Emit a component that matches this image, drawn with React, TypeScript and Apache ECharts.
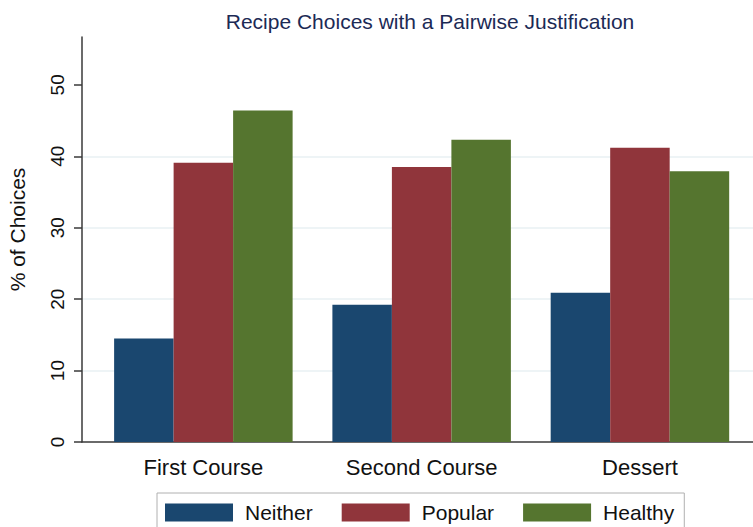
import React, { useEffect, useRef } from "react";
import * as echarts from "echarts";

const categories = ["First Course", "Second Course", "Dessert"];
const seriesNames = ["Neither", "Popular", "Healthy"];
const neither = [14.5, 19.2, 20.9];
const popular = [39.1, 38.5, 41.2];
const healthy = [46.4, 42.3, 37.9];
const yTicks = [0, 10, 20, 30, 40, 50];
const colors = ["#1a476f", "#90353b", "#55752f"];

export default function App() {
  const ref = useRef<HTMLDivElement>(null);
  useEffect(() => {
    const chart = echarts.init(ref.current!, null, { renderer: "svg" });
    const values = [neither, popular, healthy];
    chart.setOption({
      animation: false,
      backgroundColor: "#ffffff",
      title: {
        text: "Recipe Choices with a Pairwise Justification",
        left: 425,
        top: 6,
        textAlign: "center",
        textStyle: { fontFamily: "Liberation Sans", fontSize: 21, fontWeight: "normal", color: "#1c2a55" },
      },
      legend: {
        data: seriesNames,
        left: 157,
        top: 493,
        padding: [9, 10, 9, 8],
        borderColor: "#b0b0b0",
        borderWidth: 1,
        itemGap: 29,
        itemWidth: 68,
        itemHeight: 18,
        icon: "rect",
        textStyle: { fontFamily: "Liberation Sans", fontSize: 21, color: "#111", padding: [0, 0, 0, 7] },
      },
      graphic: [
        {
          type: "text",
          x: 17,
          y: 229.5,
          rotation: Math.PI / 2,
          style: {
            text: "% of Choices",
            fontFamily: "Liberation Sans",
            fontSize: 21,
            fill: "#111",
            textAlign: "center",
            textVerticalAlign: "middle",
          },
        },
      ],
      grid: { left: 82, right: 0, top: 37, bottom: 85, containLabel: false },
      xAxis: {
        type: "value",
        min: 0.444,
        max: 3.518,
        splitLine: { show: false },
        axisTick: { show: false },
        axisLine: { show: true, onZero: false, lineStyle: { color: "#3a3a3a", width: 1.5 } },
        axisLabel: {
          customValues: [1, 2, 3],
          formatter: (v: number) => categories[Math.round(v) - 1] ?? "",
          fontFamily: "Liberation Sans",
          fontSize: 22,
          color: "#111",
          margin: 14,
        },
      },
      yAxis: {
        type: "value",
        min: 0,
        max: 56.7,
        interval: 10,
        axisLine: { show: true, lineStyle: { color: "#3a3a3a", width: 1.5 } },
        axisTick: { show: true, length: 8, customValues: yTicks, lineStyle: { color: "#3a3a3a", width: 1.5 } },
        axisLabel: {
          customValues: yTicks,
          rotate: 90,
          fontFamily: "Liberation Sans",
          fontSize: 19,
          color: "#111",
          margin: 15,
        },
        splitLine: { show: true, showMaxLine: false, showMinLine: false, lineStyle: { color: "#e8f0f3", width: 1.5 } },
      },
      series: seriesNames.map((name, si) => ({
        name,
        type: "bar",
        barWidth: 59.5,
        barGap: "0%",
        itemStyle: { color: colors[si] },
        data: values[si].map((v, i) => [i + 1, v]),
      })),
    });
    return () => chart.dispose();
  }, []);
  return <div ref={ref} style={{ width: 753, height: 527, position: "absolute", left: 0, top: 0 }} />;
}
